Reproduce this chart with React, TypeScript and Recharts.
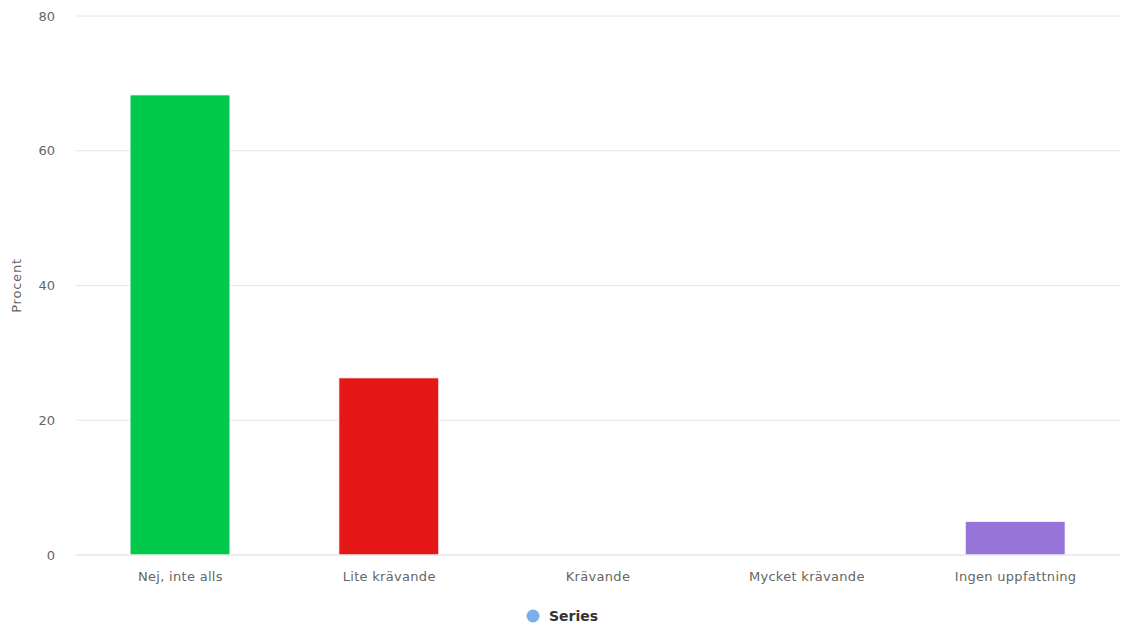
import React from 'react';
import { BarChart, Bar, XAxis, YAxis, CartesianGrid, Legend, Cell } from 'recharts';

const categories = ['Nej, inte alls', 'Lite krävande', 'Krävande', 'Mycket krävande', 'Ingen uppfattning'];
const values = [68.3, 26.3, 0, 0, 5.0];
const yTicks = [0, 20, 40, 60, 80];
const seriesName = 'Series';

const barColors = ['#00c94c', '#e51616', '#7cb5ec', '#7cb5ec', '#9575d8'];
const FONT = '"DejaVu Sans", "Lucida Grande", sans-serif';

const data = categories.map((c, i) => ({ name: c, value: values[i] }));

const LegendContent = () => (
  <div style={{ display: 'flex', justifyContent: 'center', alignItems: 'center', height: 22, fontFamily: FONT, paddingLeft: 4 }}>
    <svg width={14} height={14} style={{ marginRight: 9 }}>
      <circle cx={7} cy={7} r={6.5} fill="#7cb0ec" />
    </svg>
    <span style={{ fontSize: 14, fontWeight: 'bold', color: '#333' }}>{seriesName}</span>
  </div>
);

export default function App() {
  return (
    <div style={{ position: 'fixed', left: 0, top: 0, width: 1122, height: 627, background: '#fff' }}>
      <BarChart
        width={1122}
        height={627}
        data={data}
        margin={{ top: 16, right: 2, left: 0, bottom: 0 }}
        barCategoryGap={0}
      >
        <CartesianGrid vertical={false} stroke="#e6e6e6" />
        <XAxis
          dataKey="name"
          height={50}
          tickLine={false}
          axisLine={{ stroke: '#e6e6e6' }}
          tickSize={0}
          tickMargin={17}
          tick={{ fill: '#666', fontSize: 13, fontFamily: FONT, letterSpacing: 0.3 }}
          interval={0}
        />
        <YAxis
          width={76}
          domain={[0, 80]}
          ticks={yTicks}
          axisLine={false}
          tickLine={false}
          tickSize={0}
          tickMargin={21}
          tick={{ fill: '#666', fontSize: 13, fontFamily: FONT }}
          label={{
            value: 'Procent',
            angle: -90,
            position: 'insideLeft',
            offset: 0,
            dx: 16,
            style: { fill: '#666', fontSize: 13, fontFamily: FONT, textAnchor: 'middle', letterSpacing: 0.8 },
          }}
        />
        <Legend verticalAlign="bottom" height={22} content={<LegendContent />} />
        <Bar dataKey="value" name={seriesName} barSize={100} isAnimationActive={false} stroke="#ffffff" strokeWidth={1}>
          {data.map((d, i) => (
            <Cell key={d.name} fill={barColors[i]} />
          ))}
        </Bar>
      </BarChart>
    </div>
  );
}
